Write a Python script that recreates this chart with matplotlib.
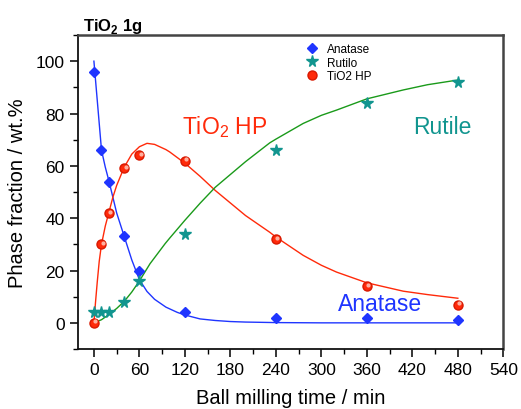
import numpy as np
import matplotlib
matplotlib.use('Agg')
import matplotlib.pyplot as plt
from matplotlib.ticker import MultipleLocator
from matplotlib.transforms import offset_copy

plt.rcParams['font.family'] = ['Liberation Sans', 'DejaVu Sans']
plt.rcParams['mathtext.fontset'] = 'custom'
plt.rcParams['mathtext.rm'] = 'Liberation Sans'
plt.rcParams['mathtext.bf'] = 'Liberation Sans:bold'

# measured phases (min, wt.%)
t_meas = [0, 10, 20, 40, 60, 120, 240, 360, 480]
anatase = [96, 66, 54, 33, 20, 4, 2, 2, 1]
rutilo = [4, 4, 4, 8, 16, 34, 66, 84, 92]
hp = [0, 30, 42, 59, 64, 62, 32, 14, 7]

# fitted curves
t_ana_fit = [0, 5, 10, 15, 20, 30, 40, 50, 60, 70, 80, 95, 110, 120, 140, 160, 180, 200, 240, 300, 480]
ana_fit = [100, 83, 66, 59.5, 54, 42, 33, 24, 16.5, 12, 9, 6, 4, 3, 1.5, 0.9, 0.5, 0.3, 0.1, 0, 0]

t_hp_fit = [0, 2, 4.4, 7, 10, 15, 20, 25, 30, 40, 50, 60, 70, 80, 95, 100, 120, 140, 160, 200,
            232, 240, 276, 300, 320, 360, 408, 440, 480]
hp_fit = [0, 7.5, 15.6, 23.5, 30, 37, 42.5, 48, 52.5, 59.5, 64.5, 67.3, 68.6, 68.2, 66.2, 65.3, 61, 56, 50.6, 41,
          34.6, 32.8, 25.8, 22, 19.4, 15.3, 12.1, 10.8, 9.4]

t_rut_fit = [0, 10, 20, 30, 40, 50, 60, 74, 94, 100, 120, 140, 160, 200, 232, 240, 276, 300, 320, 360, 408, 440, 480]
rut_fit = [0, 1.2, 3.2, 5.5, 8.2, 11.8, 16, 22.6, 30.3, 32.4, 39.2, 45.7, 51.8, 61.6, 68.8, 70.2, 76.2, 79.3, 81.3,
           85.6, 89, 91, 92.8]

blue = '#1f35ff'
red = '#ff2a0a'
teal = '#11958f'
green = '#1a9a1a'

fig = plt.figure(figsize=(5.21, 4.10), dpi=100)
ax = fig.add_axes([0.1497, 0.1463, 0.8164, 0.7659])

ax.plot(t_ana_fit, ana_fit, color=blue, lw=1.0)
ax.plot(t_hp_fit, hp_fit, color=red, lw=1.0)
ax.plot(t_rut_fit, rut_fit, color=green, lw=1.0)

ax.plot(t_meas, anatase, 'D', color=blue, ms=5.5, ls='none', label='Anatase')
ax.plot(t_meas, rutilo, '*', color=teal, ms=8.5, ls='none', label='Rutilo')
ax.plot(t_meas, hp, 'o', color=red, mec='#d81800', ms=6.5, ls='none', label='TiO2 HP')
# little highlight on the red spheres
hl = offset_copy(ax.transData, fig=fig, x=1.0, y=1.0, units='points')
ax.plot(t_meas, hp, 'o', color='#ffb0a0', ms=2.0, ls='none', transform=hl)

ax.text(116, 72.4, r'TiO$_2$ HP', color=red, fontsize=16.5)
ax.text(421, 72.4, 'Rutile', color=teal, fontsize=16.5)
ax.text(322, 5.0, 'Anatase', color=blue, fontsize=16.5)

ax.set_xlim(-21, 540)
ax.set_ylim(-10, 110)
ax.xaxis.set_major_locator(MultipleLocator(60))
ax.xaxis.set_minor_locator(MultipleLocator(30))
ax.yaxis.set_major_locator(MultipleLocator(20))
ax.yaxis.set_minor_locator(MultipleLocator(10))
ax.tick_params(which='major', length=6, width=1.1, labelsize=12.5, direction='out', top=False, right=False)
ax.tick_params(which='minor', length=3.5, width=1.0, direction='out', top=False, right=False)

for s in ['left', 'bottom']:
    ax.spines[s].set_linewidth(1.3)
    ax.spines[s].set_color('#111111')
for s in ['top', 'right']:
    ax.spines[s].set_linewidth(1.8)
    ax.spines[s].set_color('#444444')

ax.set_xlabel('Ball milling time / min', fontsize=14.5, labelpad=8)
ax.set_ylabel('Phase fraction / wt.%', fontsize=14.5, labelpad=6)

ax.legend(loc='upper left', bbox_to_anchor=(0.536, 0.975), frameon=False, fontsize=8.5,
          handlelength=1.0, handletextpad=0.8, labelspacing=0.15, borderpad=0, borderaxespad=0)

fig.text(83 / 521, 1 - 31 / 410, r'TiO$_\mathbf{2}$ 1g', fontsize=12, fontweight='bold')

fig.savefig('out.png', dpi=100)
